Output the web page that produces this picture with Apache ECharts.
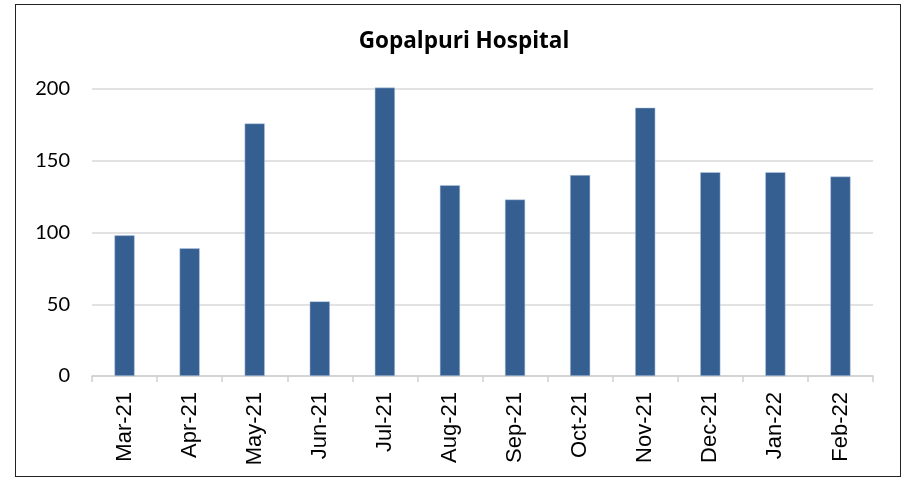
<!DOCTYPE html>
<html>
<head>
<meta charset="utf-8">
<script src="https://cdn.jsdelivr.net/npm/echarts@6/dist/echarts.min.js"></script>
<style>
  html, body { margin: 0; padding: 0; background: #fff; }
  #frame { position: absolute; left: 15px; top: 4px; width: 886px; height: 473px; border: 1.5px solid #222; box-sizing: border-box; }
  #chart { position: absolute; left: 0; top: 0; width: 904px; height: 485px; }
</style>
</head>
<body>
<div id="frame"></div>
<div id="chart"></div>
<script>
// monthly counts
const months = ['Mar-21', 'Apr-21', 'May-21', 'Jun-21', 'Jul-21', 'Aug-21', 'Sep-21', 'Oct-21', 'Nov-21', 'Dec-21', 'Jan-22', 'Feb-22']
const patients = [98, 89, 176, 52, 201, 133, 123, 140, 187, 142, 142, 139]
const yTicks = [0, 50, 100, 150, 200]

const chart = echarts.init(document.getElementById('chart'))
chart.setOption({
  animation: false,
  title: {
    text: 'Gopalpuri Hospital',
    left: 459,
    top: 25,
    textAlign: 'center',
    textStyle: { fontFamily: 'Open Sans', fontWeight: 'bold', fontSize: 22.5, color: '#000' }
  },
  grid: { left: 92, right: 31, top: 89, bottom: 109, containLabel: false },
  xAxis: {
    type: 'category',
    data: months,
    axisLine: { lineStyle: { color: '#d0d0d0', width: 1.5 } },
    axisTick: { show: true, length: 6, lineStyle: { color: '#d0d0d0', width: 1.5 } },
    axisLabel: { rotate: 90, margin: 16, fontFamily: 'Liberation Sans', fontSize: 22, color: '#000' }
  },
  yAxis: {
    type: 'value',
    min: yTicks[0],
    max: yTicks[yTicks.length - 1],
    interval: 50,
    axisLine: { show: false },
    axisTick: { show: false },
    splitLine: { lineStyle: { color: '#d9d9d9', width: 1.5 } },
    axisLabel: { margin: 22, fontFamily: 'Lato', fontSize: 20, color: '#000' }
  },
  series: [{
    type: 'bar',
    data: patients,
    clip: false,
    barWidth: '31%',
    itemStyle: { color: '#365f91', borderColor: '#b8cce4', borderWidth: 0.5 }
  }]
})
</script>
</body>
</html>
